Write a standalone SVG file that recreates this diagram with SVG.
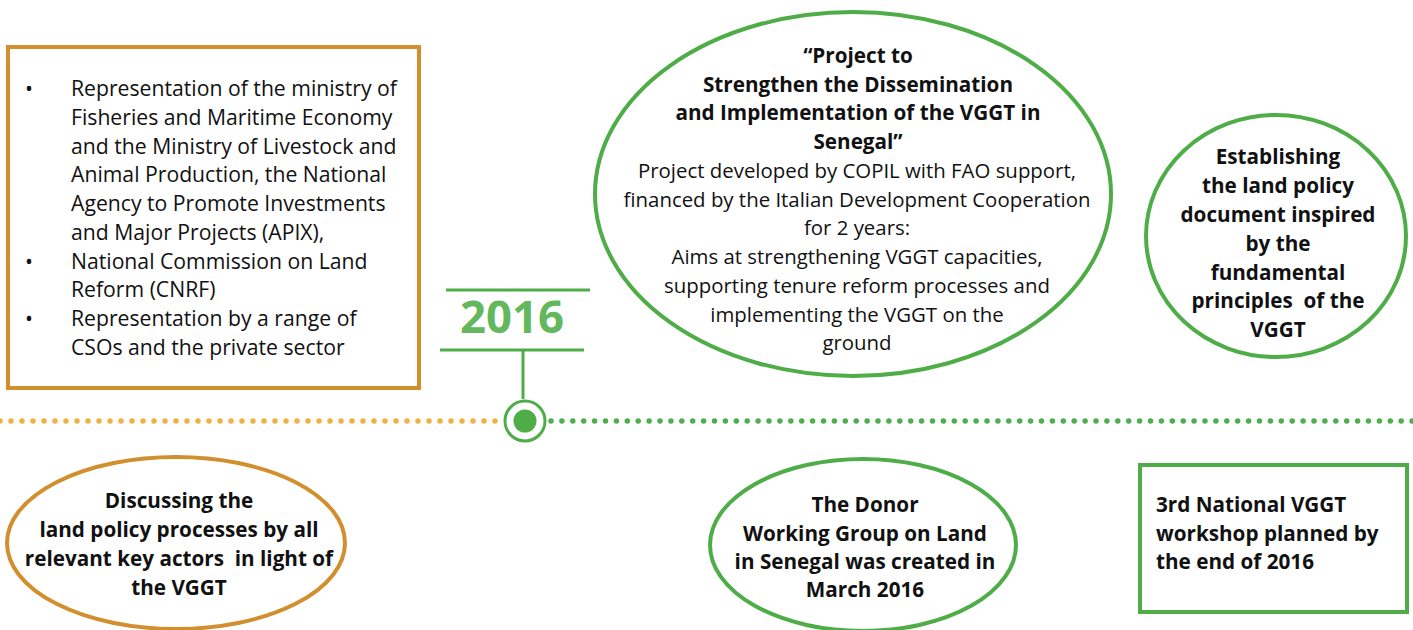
<svg xmlns="http://www.w3.org/2000/svg" width="1413" height="630" viewBox="0 0 1413 630">
<style>
text{font-family:"Open Sans","Noto Sans",sans-serif;fill:#111;white-space:pre;}
.r{font-size:20.4px;}
.rb{font-size:21.2px;}
.b{font-size:20.7px;font-weight:bold;}
.c{text-anchor:middle;}
.og{fill:none;stroke:#d18f2d;stroke-width:4;}
.gr{fill:none;stroke:#4fad48;stroke-width:4;}
.yr{font-size:45.5px;font-weight:bold;fill:#63b75c;}
</style>
<rect width="1413" height="630" fill="#fff"/>
<g id="timeline">
<line x1="0" y1="421" x2="503" y2="421" stroke="#f0b143" stroke-width="5.5" stroke-linecap="round" stroke-dasharray="0 11"/>
<line x1="551" y1="421" x2="1413" y2="421" stroke="#4cae4c" stroke-width="5.5" stroke-linecap="round" stroke-dasharray="0 10.9"/>
<line x1="446" y1="290" x2="590" y2="290" stroke="#4fad48" stroke-width="3"/>
<text class="yr c" x="512" y="333">2016</text>
<line x1="440" y1="350" x2="584" y2="350" stroke="#4fad48" stroke-width="3"/>
<line x1="523" y1="350" x2="523" y2="399" stroke="#4fad48" stroke-width="3"/>
<circle cx="525" cy="421" r="20" fill="#fff" stroke="#4fad48" stroke-width="3"/>
<circle cx="525" cy="421" r="11.5" fill="#4fad48"/>
</g>
<g id="node-actors">
<rect x="8" y="47" width="411" height="341" class="og"/>
<text class="rb" x="25" y="96">•</text>
<text class="rb" x="25" y="269">•</text>
<text class="rb" x="25" y="326">•</text>
<text class="rb" x="71" y="96">Representation of the ministry of</text>
<text class="rb" x="71" y="125">Fisheries and Maritime Economy</text>
<text class="rb" x="71" y="154">and the Ministry of Livestock and</text>
<text class="rb" x="71" y="182">Animal Production, the National</text>
<text class="rb" x="71" y="211">Agency to Promote Investments</text>
<text class="rb" x="71" y="240">and Major Projects (APIX),</text>
<text class="rb" x="71" y="269">National Commission on Land</text>
<text class="rb" x="71" y="297">Reform (CNRF)</text>
<text class="rb" x="71" y="326">Representation by a range of</text>
<text class="rb" x="71" y="355">CSOs and the private sector</text>
</g>
<g id="node-project">
<ellipse cx="853" cy="194" rx="258" ry="182" class="gr"/>
<text class="b c" x="858" y="63">“Project to</text>
<text class="b c" x="858" y="92">Strengthen the Dissemination</text>
<text class="b c" x="858" y="120">and Implementation of the VGGT in</text>
<text class="b c" x="858" y="149">Senegal”</text>
<text class="r c" x="857" y="178">Project developed by COPIL with FAO support,</text>
<text class="r c" x="857" y="207">financed by the Italian Development Cooperation</text>
<text class="r c" x="857" y="235">for 2 years:</text>
<text class="r c" x="857" y="264">Aims at strengthening VGGT capacities,</text>
<text class="r c" x="857" y="293">supporting tenure reform processes and</text>
<text class="r c" x="857" y="322">implementing the VGGT on the</text>
<text class="r c" x="857" y="350">ground</text>
</g>
<g id="node-policy">
<ellipse cx="1276" cy="236" rx="130" ry="121" class="gr"/>
<text class="b c" x="1278" y="164">Establishing</text>
<text class="b c" x="1278" y="193">the land policy</text>
<text class="b c" x="1278" y="222">document inspired</text>
<text class="b c" x="1278" y="251">by the</text>
<text class="b c" x="1278" y="280">fundamental</text>
<text class="b c" x="1278" y="308">principles  of the</text>
<text class="b c" x="1278" y="337">VGGT</text>
</g>
<g id="node-discussing">
<ellipse cx="176" cy="543" rx="169" ry="86" class="og"/>
<text class="b c" x="179" y="508">Discussing the</text>
<text class="b c" x="179" y="537">land policy processes by all</text>
<text class="b c" x="179" y="566">relevant key actors  in light of</text>
<text class="b c" x="179" y="595">the VGGT</text>
</g>
<g id="node-donor">
<ellipse cx="863" cy="545" rx="153" ry="86" class="gr"/>
<text class="b c" x="865" y="512">The Donor</text>
<text class="b c" x="865" y="541">Working Group on Land</text>
<text class="b c" x="865" y="569">in Senegal was created in</text>
<text class="b c" x="865" y="597">March 2016</text>
</g>
<g id="node-workshop">
<rect x="1140" y="465" width="267" height="147" class="gr"/>
<text class="b" x="1156" y="512">3rd National VGGT</text>
<text class="b" x="1156" y="541">workshop planned by</text>
<text class="b" x="1156" y="569">the end of 2016</text>
</g>
</svg>
